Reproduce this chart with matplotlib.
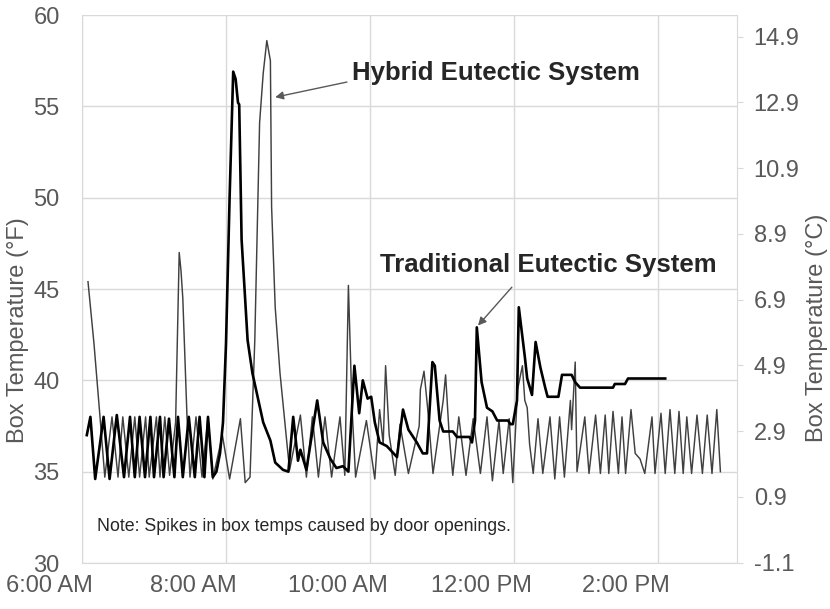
import matplotlib
matplotlib.use("Agg")
import matplotlib.pyplot as plt
import matplotlib.transforms as mtransforms
import numpy as np

# ---- data (minutes after 6:00 AM, temperature in °F) ----
trad_min = [4, 7, 11, 18, 23, 29, 35, 40, 44, 48, 52.5, 57, 60, 65, 68, 72.5, 77, 80, 84, 89, 94, 98, 102, 105, 109,
            112, 115, 117.5, 120, 123, 126, 128, 130, 131, 133, 138, 142, 147, 151, 157, 161, 167.5, 172,
            176, 180, 182, 187, 196, 201, 207, 212, 217.5, 222, 227, 231, 234, 238, 241, 244, 248, 254,
            262.5, 267.5, 272, 279, 284, 287.5, 292, 294, 298, 301, 309, 312.5, 323, 325, 327.5, 329, 333,
            337.5, 342, 346, 355, 357, 359, 362.5, 364, 369, 371, 375, 378, 382, 386, 388, 397, 398, 400,
            408, 411, 415, 442.5, 444, 452.5, 455, 486]
trad_temp = [37.0, 38.0, 34.6, 38.0, 34.6, 38.1, 34.7, 38.0, 34.7, 38.0, 34.7, 38.0, 34.7, 38.0, 34.7, 37.9, 34.7, 38.0, 34.7, 38.0, 34.7, 38.0, 34.7, 38.0, 34.7,
             35.0, 36.0, 37.7, 42.0, 50.0, 56.9, 56.5, 55.2, 55.1, 47.7, 42.2, 40.4, 38.9, 37.7, 36.7, 35.5, 35.1, 35.0,
             38.0, 35.6, 36.2, 35.1, 38.9, 36.6, 35.7, 35.2, 35.3, 35.0, 40.8, 38.2, 40.0, 39.0, 39.1, 37.7, 36.6, 36.4,
             35.8, 38.4, 37.3, 36.6, 36.0, 36.0, 41.0, 40.8, 37.8, 37.2, 37.2, 36.9, 36.9, 36.6, 37.8, 42.9, 39.9,
             38.5, 38.3, 37.8, 37.8, 37.6, 37.6, 38.9, 44.0, 41.3, 40.1, 39.2, 42.1, 40.7, 39.6, 39.1, 39.1, 39.5, 40.3,
             40.3, 39.9, 39.6, 39.6, 39.8, 39.8, 40.1, 40.1]

hyb_min = [5, 10, 15, 19, 25, 30, 34, 39, 44, 48, 53, 56, 62, 65, 69, 73, 78, 81, 82.5, 84, 87.5, 90, 95, 100, 105, 109,
           117, 123, 132, 136, 140, 144, 148, 151, 154, 157, 158, 161, 165, 171, 173,
           182, 187, 192, 197, 202.5, 208, 215, 219, 222, 225, 228, 237, 244, 248, 251, 253, 256, 261, 265, 272,
           281, 282, 285, 288, 292.5, 301, 303, 306, 309, 314, 320, 326, 332, 337.5, 342, 347.5, 351, 356, 359,
           363, 367, 369, 371, 373, 376, 380, 384, 390, 394, 398, 402, 407, 408, 411, 412.5, 419, 422.5, 428, 432,
           436, 439, 442.5, 447, 450, 453, 457.5, 461, 465, 469, 475, 477.5, 482.5, 486, 490, 494, 497.5, 501,
           504, 508, 512.5, 517, 521, 525, 529, 532]
hyb_temp = [45.4, 42.0, 38.0, 34.7, 38.0, 34.7, 38.0, 34.7, 38.0, 34.7, 38.0, 34.7, 38.0, 34.7, 38.0, 34.8, 37.7, 47.0, 46.0, 44.5, 38.0, 34.7, 38.0, 34.7, 38.0, 34.6,
            37.0, 34.6, 37.9, 34.4, 34.7, 42.2, 54.1, 56.8, 58.6, 57.5, 49.5, 44.0, 40.4, 36.4, 35.1,
            38.1, 34.7, 38.0, 34.7, 38.0, 34.7, 38.0, 34.8, 45.2, 38.5, 34.7, 37.8, 34.6, 38.4, 36.5, 40.8, 37.0, 34.8, 37.6, 34.9,
            37.5, 39.5, 40.5, 38.5, 34.9, 38.9, 40.3, 37.0, 34.8, 38.0, 34.8, 37.9, 34.9, 38.0, 34.5, 37.8, 34.9, 37.9, 34.4,
            39.5, 40.8, 38.9, 38.5, 36.5, 34.9, 37.9, 34.9, 38.0, 34.6, 38.0, 34.7, 38.9, 37.3, 41.0, 35.0, 38.0, 34.9, 38.1, 34.9,
            38.1, 34.9, 38.3, 34.9, 38.0, 34.9, 38.4, 36.0, 35.7, 34.9, 38.0, 34.9, 38.2, 34.9, 38.4, 34.9, 38.3, 34.9,
            38.0, 34.9, 38.1, 34.9, 38.1, 34.9, 38.4, 35.0]

x_tick_labels = ["6:00 AM", "8:00 AM", "10:00 AM", "12:00 PM", "2:00 PM"]
f_ticks = [30, 35, 40, 45, 50, 55, 60]
c_ticks = [-1.1, 0.9, 2.9, 4.9, 6.9, 8.9, 10.9, 12.9, 14.9]

# ---- figure ----
W, H = 830, 609
fig = plt.figure(figsize=(W / 100, H / 100), dpi=100)
L, R, T, B = 82, 737, 15, 563
ax = fig.add_axes([L / W, 1 - B / H, (R - L) / W, (B - T) / H])

gray = "#595959"
grid_c = "#d9d9d9"
tick_font = ["Liberation Sans", "DejaVu Sans"]

t_trad = 6 + np.array(trad_min) / 60.0
t_hyb = 6 + np.array(hyb_min) / 60.0

ax.plot(t_hyb, hyb_temp, color="#404040", lw=1.05, zorder=3)
ax.plot(t_trad, trad_temp, color="black", lw=1.9, zorder=4)

xmax = 6 + (R - L) / 72.0
ax.set_xlim(6, xmax)
ax.set_ylim(30, 60)
ax.set_yticks(f_ticks)
ax.set_yticklabels([str(v) for v in f_ticks], fontsize=17, color=gray, family=tick_font)
ax.set_xticks([6, 8, 10, 12, 14])
ax.set_xticklabels([])
ax.tick_params(axis="x", length=0)
ax.tick_params(axis="y", length=0, pad=16)
ax.grid(True, color=grid_c, lw=1.0, zorder=0)
for s in ["left", "right", "bottom"]:
    ax.spines[s].set_color(grid_c)
ax.spines["top"].set_visible(False)

# x tick labels shifted left of the grid lines (as in reference)
trans = mtransforms.blended_transform_factory(ax.transData, fig.transFigure)
for hour, lab in zip([6, 8, 10, 12, 14], x_tick_labels):
    ax.text(hour - 0.45, 1 - 586 / H, lab, transform=trans, ha="center", va="center",
            fontsize=17, color=gray, family=tick_font, clip_on=False)

ax.set_ylabel("Box Temperature (°F)", fontsize=17, color=gray, family=tick_font)
ax.yaxis.set_label_coords(-0.081, 0.425)

# secondary axis in °C
ax2 = ax.twinx()
ax2.set_ylim((30 - 32) / 1.8, (60 - 32) / 1.8)
ax2.set_yticks(c_ticks)
ax2.set_yticklabels([f"{v:.1f}" for v in c_ticks], fontsize=17, color=gray, family=tick_font)
ax2.tick_params(axis="y", length=4, color=grid_c, pad=8)
for s in ax2.spines.values():
    s.set_visible(False)
ax2.set_ylabel("Box Temperature (°C)", fontsize=17, color=gray, family=tick_font, rotation=90)
ax2.yaxis.set_label_coords(1.106, 0.43)

# annotations
ax.annotate("", xy=(8.683, 55.5), xytext=(9.68, 56.33),
            arrowprops=dict(arrowstyle="-|>", color=gray, lw=1.0, shrinkA=0, shrinkB=0,
                            mutation_scale=12))
ax.text(9.75, 56.8, "Hybrid Eutectic System", fontsize=18.5, fontweight="bold",
        color="#262626", family=tick_font, ha="left", va="center")
ax.annotate("", xy=(11.5, 43.0), xytext=(11.97, 45.1),
            arrowprops=dict(arrowstyle="-|>", color=gray, lw=1.0, shrinkA=0, shrinkB=0,
                            mutation_scale=12))
ax.text(10.14, 46.3, "Traditional Eutectic System", fontsize=18.5, fontweight="bold",
        color="#262626", family=tick_font, ha="left", va="center")

ax.text(6.21, 32.0, "Note: Spikes in box temps caused by door openings.", fontsize=12.8,
        color="#262626", family=tick_font, ha="left", va="center")

fig.savefig("out.png", dpi=100)
